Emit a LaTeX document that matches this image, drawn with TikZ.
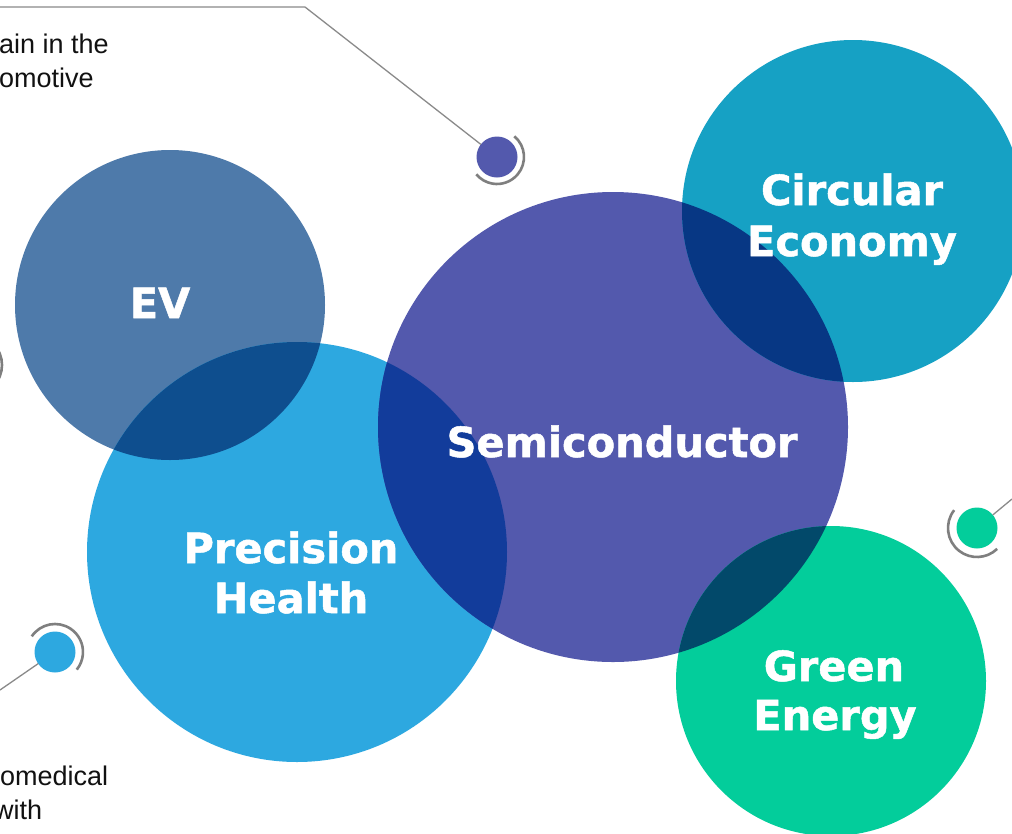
\documentclass[tikz,border=0pt]{standalone}
\usepackage{fontspec}
\setmainfont{Liberation Sans}
\newfontfamily\labelfont{DejaVu Sans}[BoldFeatures={FakeBold=1.2}]
\definecolor{evc}{HTML}{4E7AAA}
\definecolor{phc}{HTML}{2DA8E0}
\definecolor{sec}{HTML}{5359AD}
\definecolor{cec}{HTML}{16A1C4}
\definecolor{gec}{HTML}{03CD9B}
\definecolor{evph}{HTML}{0E4E8E}
\definecolor{seph}{HTML}{123C9B}
\definecolor{sece}{HTML}{073784}
\definecolor{sege}{HTML}{02496A}
\definecolor{ringgray}{HTML}{7F7F7F}
\definecolor{linegray}{HTML}{8A8A8A}
\definecolor{textblack}{HTML}{111111}
\begin{document}
\begin{tikzpicture}[x=1pt,y=-1pt,
  bubble/.style={circle, inner sep=0pt, outer sep=0pt, minimum size=#1},
  dotnode/.style={circle, inner sep=0pt, outer sep=0pt, minimum size=41pt, fill=#1},
  ringarc/.style={draw=ringgray, line width=2.6pt},
  leader/.style={draw=linegray, line width=1.3pt},
  lbl/.style={text=white, font=\labelfont\bfseries\fontsize{41.5}{51}\selectfont, inner sep=0pt, anchor=base},
  bodytext/.style={text=textblack, font=\fontsize{27}{34}\selectfont, inner sep=0pt, anchor=base west}]
\useasboundingbox (0,0) rectangle (1012,833);
\clip (0,0) rectangle (1012,833);
\fill[white] (0,0) rectangle (1012,833);

% bubbles
\node[bubble=310pt, fill=evc] (ev) at (170,305) {};
\node[bubble=420pt, fill=phc] (ph) at (297,552) {};
\node[bubble=470pt, fill=sec] (se) at (613,427) {};
\node[bubble=342pt, fill=cec] (ce) at (853,211) {};
\node[bubble=310pt, fill=gec] (ge) at (831,681) {};

% overlaps
\begin{scope}
  \clip (ev.center) circle[radius=155];
  \fill[evph] (ph.center) circle[radius=210];
\end{scope}
\begin{scope}
  \clip (se.center) circle[radius=235];
  \fill[seph] (ph.center) circle[radius=210];
\end{scope}
\begin{scope}
  \clip (se.center) circle[radius=235];
  \fill[sece] (ce.center) circle[radius=171];
\end{scope}
\begin{scope}
  \clip (se.center) circle[radius=235];
  \fill[sege] (ge.center) circle[radius=155];
\end{scope}

% labels
\node[lbl] (evL) at (160,318) {EV};
\node[lbl] (seL) at (622,457) {Semiconductor};
\node[lbl] (ceL1) at (852,205) {Circular};
\node[lbl] (ceL2) at (852,256) {Economy};
\node[lbl] (phL1) at (291,563) {Precision};
\node[lbl] (phL2) at (291,613) {Health};
\node[lbl] (geL1) at (834,681) {Green};
\node[lbl] (geL2) at (835,730) {Energy};

% small dots with rings
\node[dotnode=sec] (d1) at (497,157) {};
\node[dotnode=phc] (d2) at (55,652) {};
\node[dotnode=gec] (d3) at (977,528) {};
\coordinate (d4) at (-28,365);

\draw[ringarc] ([shift={(-50:27)}]d1.center) arc[start angle=-50, end angle=140, radius=27];
\draw[ringarc] ([shift={(-146:28)}]d2.center) arc[start angle=-146, end angle=39, radius=28];
\draw[ringarc] ([shift={(-142:29)}]d3.center) arc[start angle=-142, end angle=-314, radius=29];
\draw[ringarc] ([shift={(-45:30)}]d4) arc[start angle=-45, end angle=45, radius=30];

% leader lines
\coordinate (t0) at (0,7);
\coordinate (t1) at (305,7);
\coordinate (b0) at (0,690);
\coordinate (r0) at (1012,499);
\draw[leader] (t0) -- (t1) -- (d1);
\draw[leader] (d2) -- (b0);
\draw[leader] (d3) -- (r0);

% cut-off body text (cut at the edges as in the reference)
\node[bodytext] (tx1) at (-1,53) {ain in the};
\node[bodytext] (tx2) at (-1,87) {omotive};
\node[bodytext] (tx3) at (0,785) {omedical};
\node[bodytext] (tx4) at (-6,819) {with};
\end{tikzpicture}
\end{document}
